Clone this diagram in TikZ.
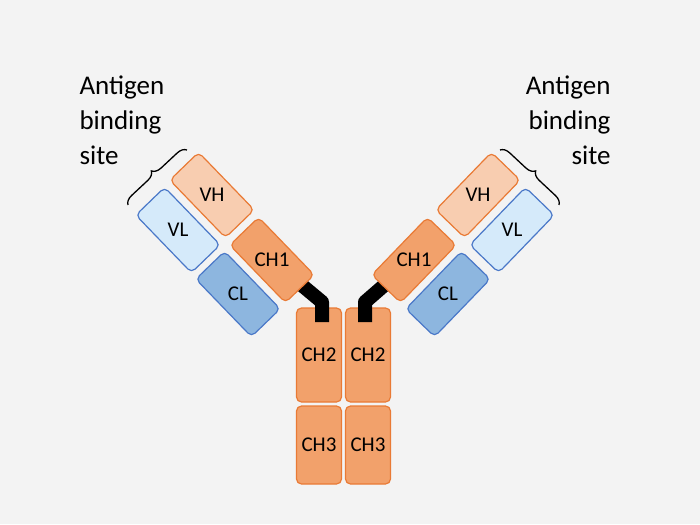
\documentclass[tikz,border=0pt]{standalone}
\usepackage{fontspec}
\setmainfont{Carlito}
\usetikzlibrary{decorations.pathreplacing}
\definecolor{bg}{HTML}{F3F3F3}
\definecolor{orb}{HTML}{E97A35}
\definecolor{vhf}{HTML}{F8CDB0}
\definecolor{chf}{HTML}{F2A16B}
\definecolor{blb}{HTML}{4A78C8}
\definecolor{vlf}{HTML}{D5EAFA}
\definecolor{clf}{HTML}{8DB6DF}
\begin{document}
\begin{tikzpicture}[x=1pt,y=-1pt,
  dom/.style={draw, line width=1.2pt, rounded corners=5pt, minimum width=80pt, minimum height=40pt, inner sep=0pt},
  lab/.style={font=\fontsize{21}{21}\selectfont},
  big/.style={font=\fontsize{27}{35}\selectfont, align=center},
  hinge/.style={line width=14pt, black, line join=round},
  br/.style={decorate, decoration={brace, amplitude=9pt}, line width=1.3pt}]
\fill[bg] (0,0) rectangle (700,524);
\useasboundingbox (0,0) rectangle (700,524);
% hinges (under CH1)
\coordinate (hl1) at (298,282); \coordinate (hl2) at (322,302); \coordinate (hl3) at (322,322);
\coordinate (hr1) at (388,282); \coordinate (hr2) at (365,302); \coordinate (hr3) at (365,322);
% stem
\foreach \n/\x/\y/\h in {ch2l/319/355/94, ch2r/368/355/94, ch3l/319/445/78, ch3r/368/445/78}
  \node[draw=orb, fill=chf, line width=1.2pt, rounded corners=5pt, minimum width=45pt, minimum height=\h pt, inner sep=0pt] (\n) at (\x,\y) {};
\draw[hinge] (hl1) -- (hl2) -- (hl3);
\draw[hinge] (hr1) -- (hr2) -- (hr3);
% left arm
\node[dom, rotate=-46, draw=orb, fill=vhf] (vhl) at (212,195) {};
\node[dom, rotate=-46, draw=blb, fill=vlf] (vll) at (178,230) {};
\node[dom, rotate=-46, draw=orb, fill=chf] (chl) at (272,260) {};
\node[dom, rotate=-46, draw=blb, fill=clf] (cll) at (238,294) {};
% right arm
\node[dom, rotate=46, draw=orb, fill=vhf] (vhr) at (478,195) {};
\node[dom, rotate=46, draw=blb, fill=vlf] (vlr) at (512,230) {};
\node[dom, rotate=46, draw=orb, fill=chf] (chr) at (414,260) {};
\node[dom, rotate=46, draw=blb, fill=clf] (clr) at (448,294) {};
% labels
\node[lab] (tvhl) at (vhl) {VH}; \node[lab] (tvll) at (vll) {VL};
\node[lab] (tchl) at (chl) {CH1}; \node[lab] (tcll) at (cll) {CL};
\node[lab] (tvhr) at (vhr) {VH}; \node[lab] (tvlr) at (vlr) {VL};
\node[lab] (tchr) at (chr) {CH1}; \node[lab] (tclr) at (clr) {CL};
\node[lab] (t2l) at (ch2l) {CH2}; \node[lab] (t2r) at (ch2r) {CH2};
\node[lab] (t3l) at (ch3l) {CH3}; \node[lab] (t3r) at (ch3r) {CH3};
% braces
\coordinate (bl1) at (128,205); \coordinate (bl2) at (187,150);
\coordinate (br1) at (500,150); \coordinate (br2) at (559,205);
\draw[br] (bl1) -- (bl2);
\draw[br] (br1) -- (br2);
\node[big, align=left, anchor=north west] (al) at (76,72) {Antigen\\binding\\site};
\node[big, align=right, anchor=north east] (ar) at (614,72) {Antigen\\binding\\site};
\end{tikzpicture}
\end{document}
